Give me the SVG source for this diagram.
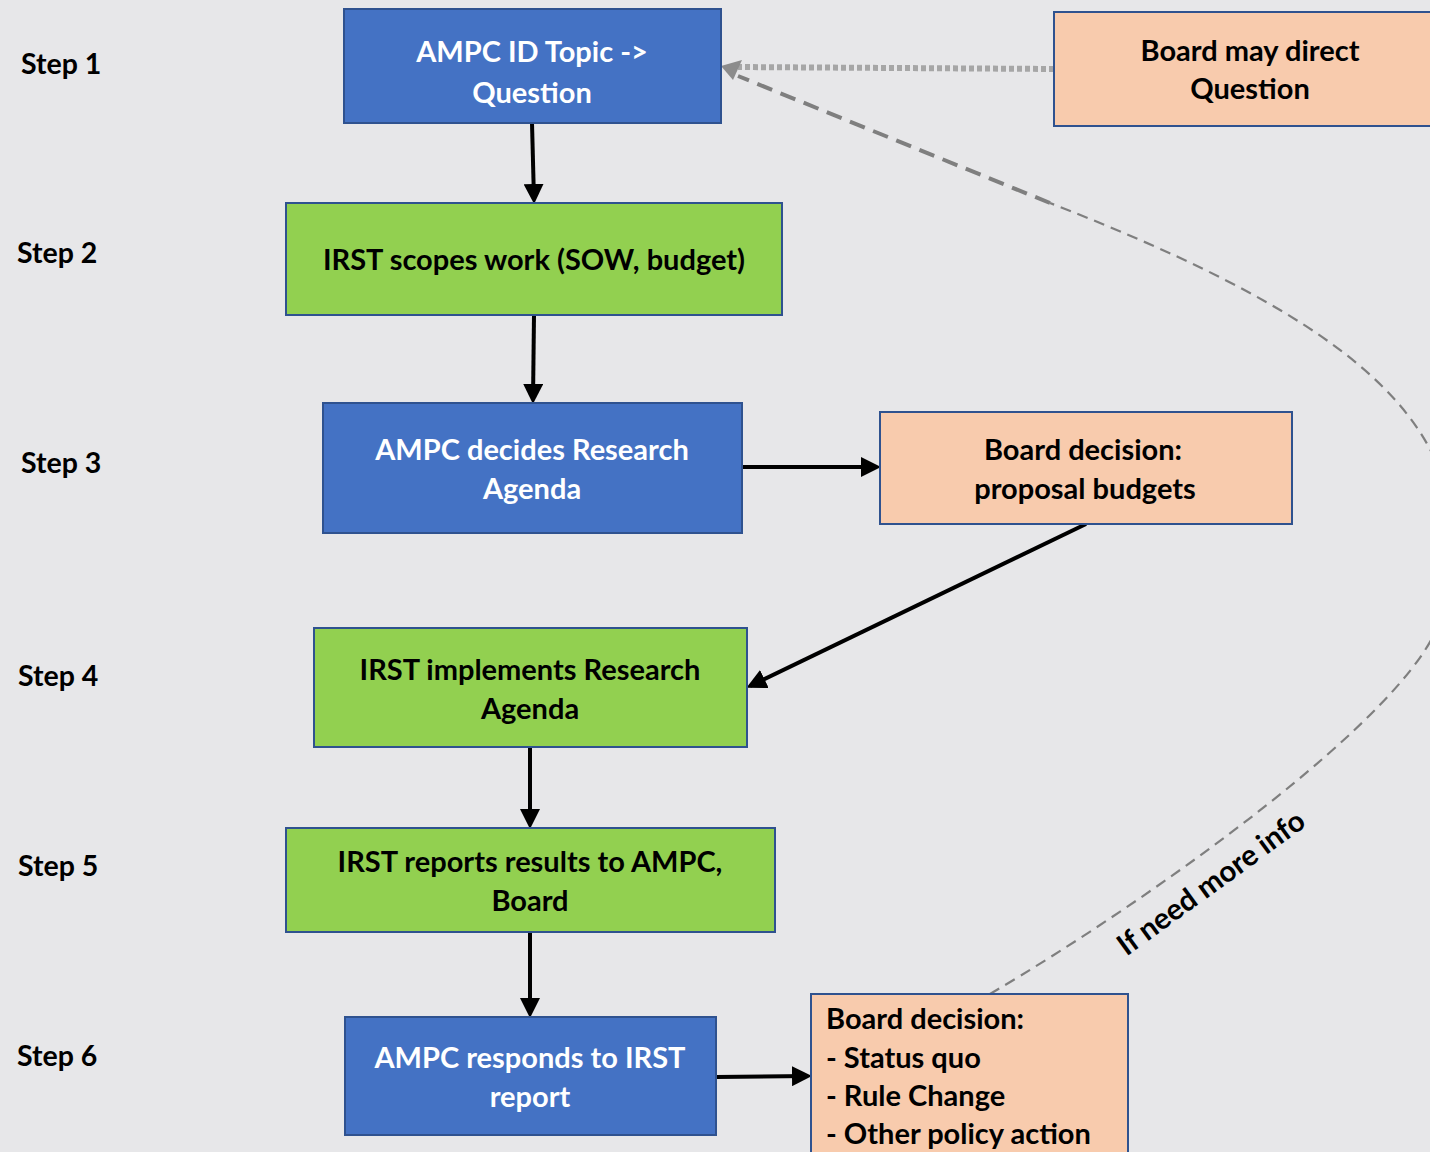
<svg xmlns="http://www.w3.org/2000/svg" width="1430" height="1152" viewBox="0 0 1430 1152">
<style>
.t{font-family:Lato,"Open Sans","Liberation Sans",sans-serif;font-weight:bold;font-size:29px}
.w{fill:#ffffff}
.k{fill:#000000}
.blue{fill:#4472C4;stroke:#2F528F;stroke-width:2}
.green{fill:#92D050;stroke:#2F528F;stroke-width:2}
.peach{fill:#F8CBAD;stroke:#2F528F;stroke-width:2}
.conn{stroke:#000;stroke-width:4;fill:none;marker-end:url(#ah)}
</style>
<defs>
<marker id="ah" markerWidth="5" markerHeight="5" refX="4" refY="2.5" orient="auto" markerUnits="strokeWidth">
<path d="M0,0 L5,2.5 L0,5 Z" fill="#000"/>
</marker>
</defs>
<rect width="1430" height="1152" fill="#E7E7E9"/>

<g id="step-labels" class="t k" style="font-size:28.5px">
<text x="21" y="74">Step 1</text>
<text x="17" y="263">Step 2</text>
<text x="21" y="473">Step 3</text>
<text x="18" y="686">Step 4</text>
<text x="18" y="876">Step 5</text>
<text x="17" y="1066">Step 6</text>
</g>

<g id="connectors">
<path class="conn" d="M532,123 L534,200"/>
<path class="conn" d="M534,315 L533,400"/>
<path class="conn" d="M742,467 L877,467"/>
<path class="conn" d="M1086,524 L750,686"/>
<path class="conn" d="M530,747 L530,825"/>
<path class="conn" d="M530,932 L530,1014"/>
<path class="conn" d="M716,1077 L808,1076"/>
<path d="M1054,69 L738,67" stroke="#A6A6A6" stroke-width="6" stroke-dasharray="5,3" fill="none"/>
<path d="M1050,203 L738,76" stroke="#7F7F7F" stroke-width="4" stroke-dasharray="16,9" fill="none"/>
<polygon points="721,66 742,60 733,80" fill="#8C8C8C"/>
<path d="M990,994 C1150,900 1410,715 1440,620 C1500,430 1350,320 1050,203" stroke="#7F7F7F" stroke-width="2.2" stroke-dasharray="11,7" fill="none"/>
<text class="t k" transform="translate(1217,891) rotate(-36)" text-anchor="middle" style="font-size:29.5px">If need more info</text>
</g>

<g id="n1">
<rect class="blue" x="344" y="9" width="377" height="114"/>
<text class="t w" x="532" y="62" text-anchor="middle">AMPC ID Topic -&gt;</text>
<text class="t w" x="532" y="103" text-anchor="middle">Question</text>
</g>
<g id="n-board-direct">
<rect class="peach" x="1054" y="12" width="390" height="114"/>
<text class="t k" x="1250" y="61" text-anchor="middle">Board may direct</text>
<text class="t k" x="1250" y="99" text-anchor="middle">Question</text>
</g>
<g id="n2">
<rect class="green" x="286" y="203" width="496" height="112"/>
<text class="t k" x="534" y="270" text-anchor="middle">IRST scopes work (SOW, budget)</text>
</g>
<g id="n3">
<rect class="blue" x="323" y="403" width="419" height="130"/>
<text class="t w" x="532" y="460" text-anchor="middle">AMPC decides Research</text>
<text class="t w" x="532" y="499" text-anchor="middle">Agenda</text>
</g>
<g id="n-board-budget">
<rect class="peach" x="880" y="412" width="412" height="112"/>
<text class="t k" x="1083" y="460" text-anchor="middle">Board decision:</text>
<text class="t k" x="1085" y="499" text-anchor="middle">proposal budgets</text>
</g>
<g id="n4">
<rect class="green" x="314" y="628" width="433" height="119"/>
<text class="t k" x="530" y="680" text-anchor="middle">IRST implements Research</text>
<text class="t k" x="530" y="719" text-anchor="middle">Agenda</text>
</g>
<g id="n5">
<rect class="green" x="286" y="828" width="489" height="104"/>
<text class="t k" x="530" y="872" text-anchor="middle">IRST reports results to AMPC,</text>
<text class="t k" x="530" y="911" text-anchor="middle">Board</text>
</g>
<g id="n6">
<rect class="blue" x="345" y="1017" width="371" height="118"/>
<text class="t w" x="530" y="1068" text-anchor="middle">AMPC responds to IRST</text>
<text class="t w" x="530" y="1107" text-anchor="middle">report</text>
</g>
<g id="n-board-final">
<rect class="peach" x="811" y="994" width="317" height="175"/>
<text class="t k" x="826" y="1029">Board decision:</text>
<text class="t k" x="826" y="1068">- Status quo</text>
<text class="t k" x="826" y="1106">- Rule Change</text>
<text class="t k" x="826" y="1144">- Other policy action</text>
</g>
</svg>
